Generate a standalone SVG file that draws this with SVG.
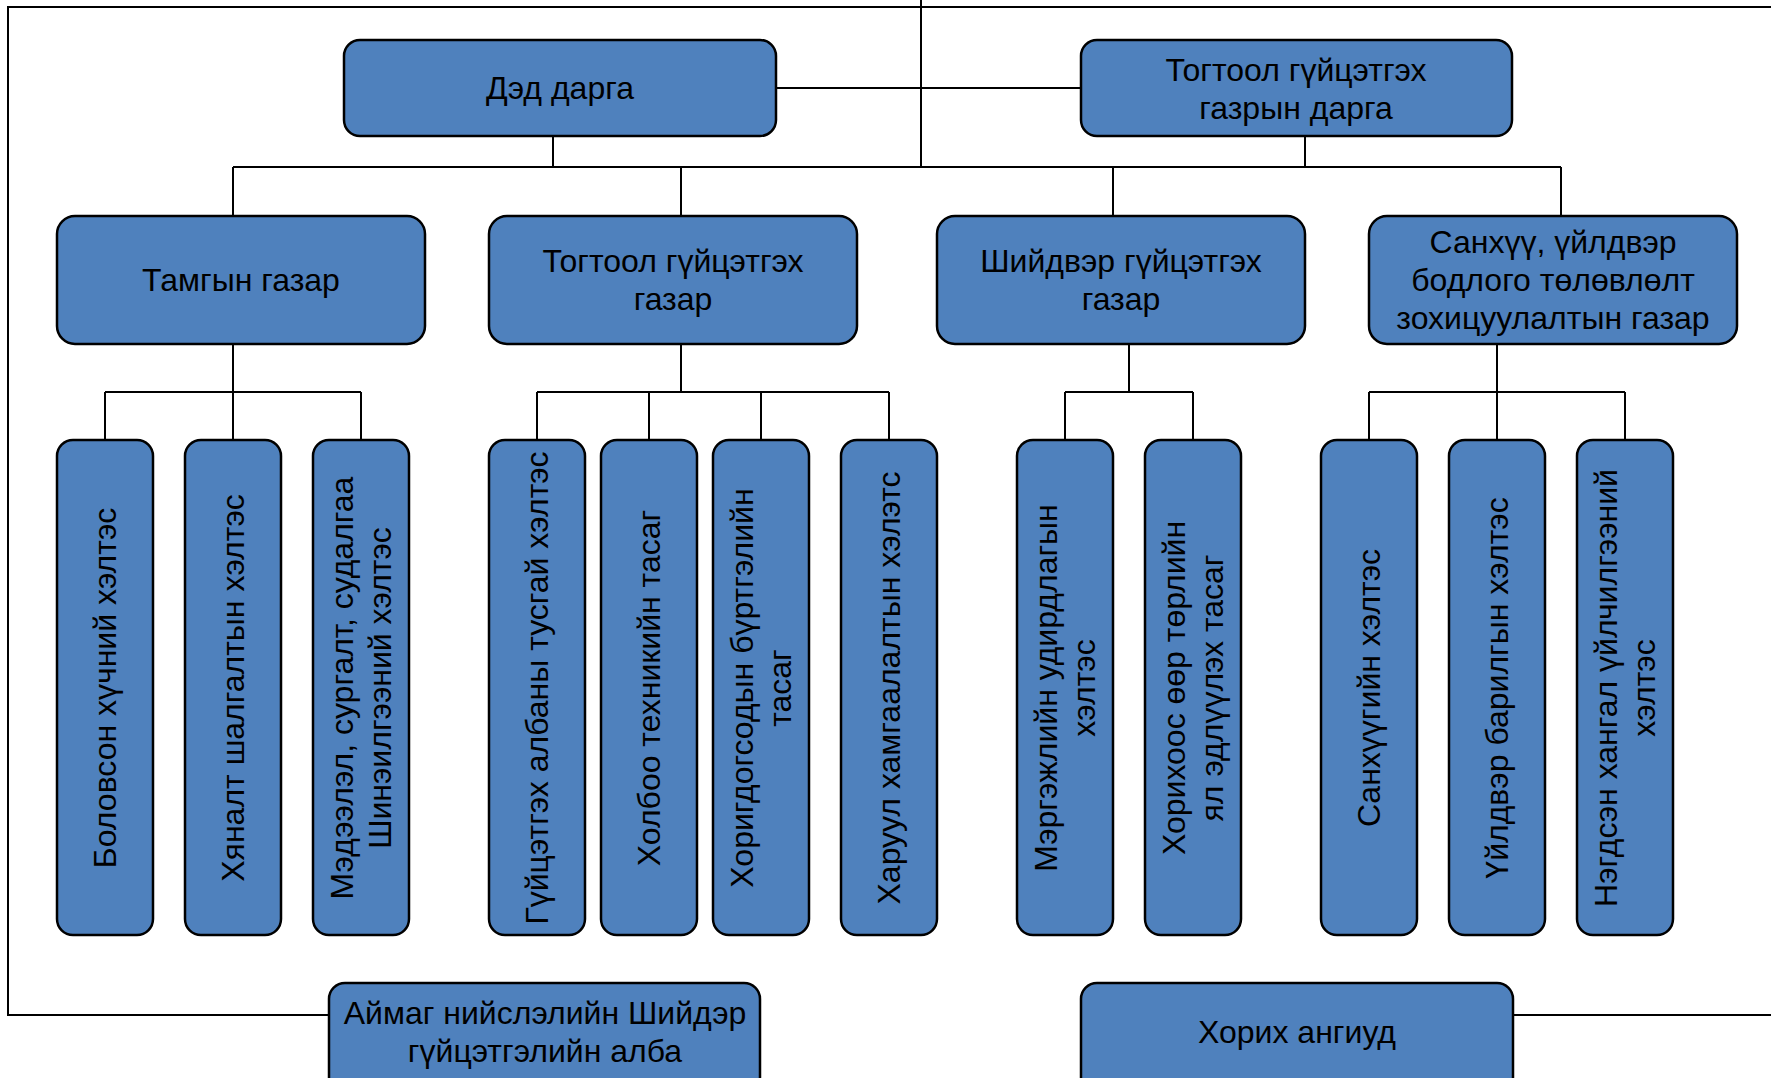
<svg xmlns="http://www.w3.org/2000/svg" width="1771" height="1078" viewBox="0 0 1771 1078">
<style>
.box{fill:#4F81BD;stroke:#000;stroke-width:2.5}
.ln{fill:none;stroke:#000;stroke-width:2}
text{font-family:"Liberation Sans",Arial,sans-serif;font-size:32px;fill:#000;text-anchor:middle;dominant-baseline:central}
</style>
<rect width="1771" height="1078" fill="#fff"/>
<g id="connectors">
<polyline class="ln" points="1771,7 8,7 8,1015 329,1015"/>
<line class="ln" x1="1513" y1="1015" x2="1771" y2="1015"/>
<line class="ln" x1="921" y1="0" x2="921" y2="167"/>
<line class="ln" x1="776" y1="88" x2="1081" y2="88"/>
<line class="ln" x1="553" y1="136" x2="553" y2="167"/>
<line class="ln" x1="1305" y1="136" x2="1305" y2="167"/>
<line class="ln" x1="233" y1="167" x2="1561" y2="167"/>
<line class="ln" x1="233" y1="167" x2="233" y2="216"/>
<line class="ln" x1="681" y1="167" x2="681" y2="216"/>
<line class="ln" x1="1113" y1="167" x2="1113" y2="216"/>
<line class="ln" x1="1561" y1="167" x2="1561" y2="216"/>
<line class="ln" x1="233" y1="344" x2="233" y2="392"/>
<line class="ln" x1="105" y1="392" x2="361" y2="392"/>
<line class="ln" x1="105" y1="392" x2="105" y2="440"/>
<line class="ln" x1="233" y1="392" x2="233" y2="440"/>
<line class="ln" x1="361" y1="392" x2="361" y2="440"/>
<line class="ln" x1="681" y1="344" x2="681" y2="392"/>
<line class="ln" x1="537" y1="392" x2="889" y2="392"/>
<line class="ln" x1="537" y1="392" x2="537" y2="440"/>
<line class="ln" x1="649" y1="392" x2="649" y2="440"/>
<line class="ln" x1="761" y1="392" x2="761" y2="440"/>
<line class="ln" x1="889" y1="392" x2="889" y2="440"/>
<line class="ln" x1="1129" y1="344" x2="1129" y2="392"/>
<line class="ln" x1="1065" y1="392" x2="1193" y2="392"/>
<line class="ln" x1="1065" y1="392" x2="1065" y2="440"/>
<line class="ln" x1="1193" y1="392" x2="1193" y2="440"/>
<line class="ln" x1="1497" y1="344" x2="1497" y2="392"/>
<line class="ln" x1="1369" y1="392" x2="1625" y2="392"/>
<line class="ln" x1="1369" y1="392" x2="1369" y2="440"/>
<line class="ln" x1="1497" y1="392" x2="1497" y2="440"/>
<line class="ln" x1="1625" y1="392" x2="1625" y2="440"/>
</g>
<g id="n_ded"><rect class="box" x="344" y="40" width="432" height="96" rx="16"/><text x="560" y="88">Дэд дарга</text></g>
<g id="n_darga"><rect class="box" x="1081" y="40" width="431" height="96" rx="16"/><text x="1296" y="70">Тогтоол гүйцэтгэх</text><text x="1296" y="108">газрын дарга</text></g>
<g id="n_tamga"><rect class="box" x="57" y="216" width="368" height="128" rx="18"/><text x="241" y="280">Тамгын газар</text></g>
<g id="n_togtool"><rect class="box" x="489" y="216" width="368" height="128" rx="18"/><text x="673" y="261">Тогтоол гүйцэтгэх</text><text x="673" y="299">газар</text></g>
<g id="n_shiidver"><rect class="box" x="937" y="216" width="368" height="128" rx="18"/><text x="1121" y="261">Шийдвэр гүйцэтгэх</text><text x="1121" y="299">газар</text></g>
<g id="n_sanhuu"><rect class="box" x="1369" y="216" width="368" height="128" rx="18"/><text x="1553" y="242">Санхүү, үйлдвэр</text><text x="1553" y="280">бодлого төлөвлөлт</text><text x="1553" y="318">зохицуулалтын газар</text></g>
<g id="n_c1"><rect class="box" x="57" y="440" width="96" height="495" rx="16"/><text transform="translate(105,688) rotate(-90)">Боловсон хүчний хэлтэс</text></g>
<g id="n_c2"><rect class="box" x="185" y="440" width="96" height="495" rx="16"/><text transform="translate(233,688) rotate(-90)">Хяналт шалгалтын хэлтэс</text></g>
<g id="n_c3"><rect class="box" x="313" y="440" width="96" height="495" rx="16"/><text transform="translate(361,688) rotate(-90)"><tspan x="0" y="-19">Мэдээлэл, сургалт, судалгаа</tspan><tspan x="0" y="19">Шинэилгээний хэлтэс</tspan></text></g>
<g id="n_c4"><rect class="box" x="489" y="440" width="96" height="495" rx="16"/><text transform="translate(537,688) rotate(-90)">Гүйцэтгэх албаны тусгай хэлтэс</text></g>
<g id="n_c5"><rect class="box" x="601" y="440" width="96" height="495" rx="16"/><text transform="translate(649,688) rotate(-90)">Холбоо техникийн тасаг</text></g>
<g id="n_c6"><rect class="box" x="713" y="440" width="96" height="495" rx="16"/><text transform="translate(761,688) rotate(-90)"><tspan x="0" y="-19">Хоригдогсодын бүртгэлийн</tspan><tspan x="0" y="19">тасаг</tspan></text></g>
<g id="n_c7"><rect class="box" x="841" y="440" width="96" height="495" rx="16"/><text transform="translate(889,688) rotate(-90)">Харуул хамгаалалтын хэлэтс</text></g>
<g id="n_c8"><rect class="box" x="1017" y="440" width="96" height="495" rx="16"/><text transform="translate(1065,688) rotate(-90)"><tspan x="0" y="-19">Мэргэжлийн удирдлагын</tspan><tspan x="0" y="19">хэлтэс</tspan></text></g>
<g id="n_c9"><rect class="box" x="1145" y="440" width="96" height="495" rx="16"/><text transform="translate(1193,688) rotate(-90)"><tspan x="0" y="-19">Хорихоос өөр төрлийн</tspan><tspan x="0" y="19">ял эдлүүлэх тасаг</tspan></text></g>
<g id="n_c10"><rect class="box" x="1321" y="440" width="96" height="495" rx="16"/><text transform="translate(1369,688) rotate(-90)">Санхүүгийн хэлтэс</text></g>
<g id="n_c11"><rect class="box" x="1449" y="440" width="96" height="495" rx="16"/><text transform="translate(1497,688) rotate(-90)">Үйлдвэр барилгын хэлтэс</text></g>
<g id="n_c12"><rect class="box" x="1577" y="440" width="96" height="495" rx="16"/><text transform="translate(1625,688) rotate(-90)"><tspan x="0" y="-19">Нэгдсэн хангал үйлчилгээний</tspan><tspan x="0" y="19">хэлтэс</tspan></text></g>
<g id="n_aimag"><rect class="box" x="329" y="983" width="431" height="110" rx="16"/><text x="545" y="1013">Аймаг нийслэлийн Шийдэр</text><text x="545" y="1051">гүйцэтгэлийн алба</text></g>
<g id="n_horih"><rect class="box" x="1081" y="983" width="432" height="110" rx="16"/><text x="1297" y="1032">Хорих ангиуд</text></g>
</svg>
